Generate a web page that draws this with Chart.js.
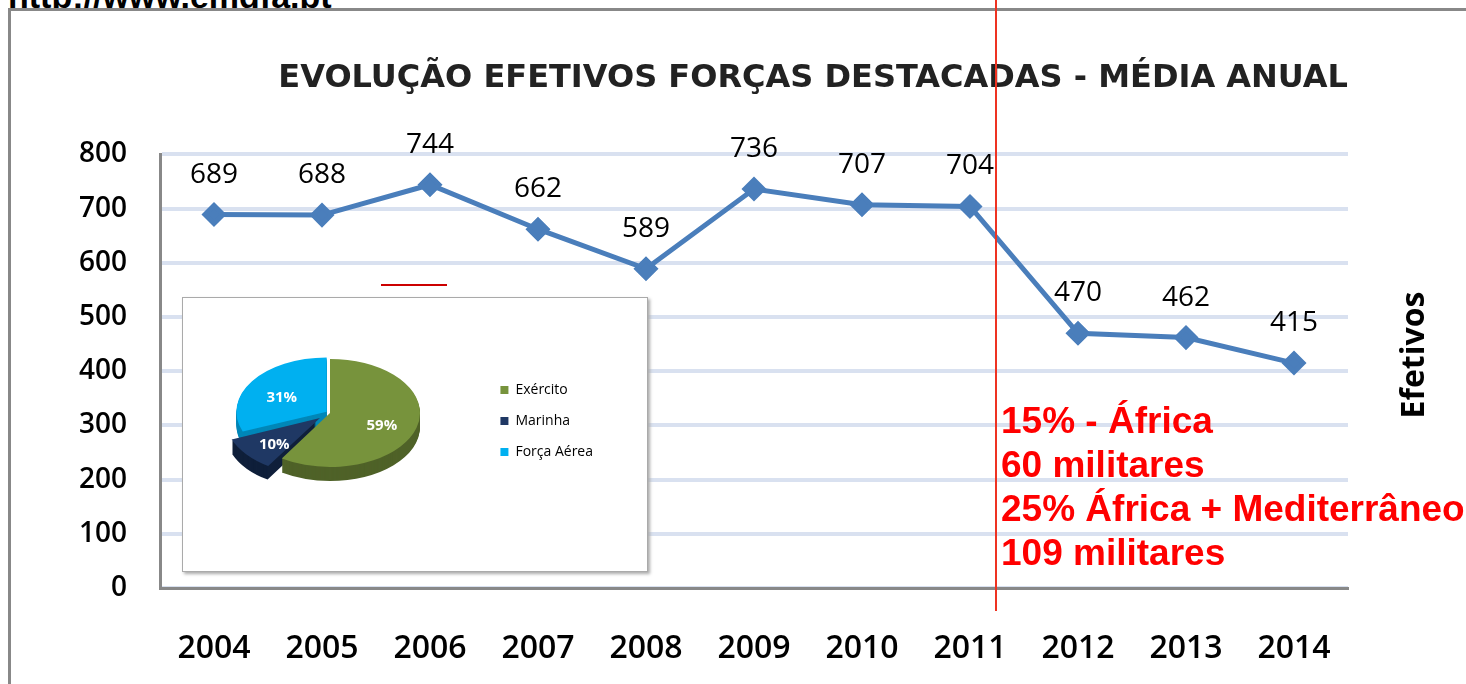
<!DOCTYPE html>
<html>
<head>
<meta charset="utf-8">
<script src="https://cdn.jsdelivr.net/npm/chart.js@4.4.1/dist/chart.umd.min.js"></script>
<style>
  html, body { margin: 0; padding: 0; background: #fff; overflow: hidden; }
  body { width: 1466px; height: 684px; position: relative; }
  .url { position: absolute; left: 8px; top: -21px; font: bold 34px "Liberation Sans", Arial, sans-serif; color: #000; line-height: 34px; white-space: nowrap; }
  .frame { position: absolute; left: 8px; top: 8px; right: -10px; bottom: -10px; border-left: 3px solid #888; border-top: 3px solid #888; background: #fff; }
  #main { position: absolute; left: 0; top: 0; }
  .inset { position: absolute; left: 182px; top: 297px; width: 464px; height: 273px; border: 1px solid #aaa; background: #fff; box-shadow: 2px 2px 3px #aaa; }
  .redline { position: absolute; left: 995px; top: 0; width: 2px; height: 611px; background: #ee3322; }
  .redmark { position: absolute; left: 381px; top: 284px; width: 66px; height: 2px; background: #cc0000; }
  .notes { position: absolute; left: 1001px; top: 399px; font: bold 37px "Liberation Sans", Arial, sans-serif; color: #ff0000; line-height: 44px; white-space: nowrap; }
</style>
</head>
<body>
<div class="url">http://www.emgfa.pt</div>
<div class="frame"></div>
<canvas id="main" width="1466" height="684"></canvas>
<div class="inset"><canvas id="pie" width="464" height="273"></canvas></div>
<div class="redmark"></div>
<div class="redline"></div>
<div class="notes">15% - África<br>60 militares<br>25% África + Mediterrâneo<br>109 militares</div>

<script>
// dados
const anos = ['2004', '2005', '2006', '2007', '2008', '2009', '2010', '2011', '2012', '2013', '2014'];
const efetivos = [689, 688, 744, 662, 589, 736, 707, 704, 470, 462, 415];
const ramos = ['Exército', 'Marinha', 'Força Aérea'];
const percentagens = [59, 10, 31];
const coresRamos = ['#77933C', '#1F3864', '#00B0F0'];
const coresLado = ['#4F6228', '#0F1F3A', '#0087B8'];
const afastamento = [0, 52, 16];

const fonte = '"Open Sans", sans-serif';

/* valores por cima dos pontos + titulo do eixo */
const rotulos = {
  id: 'rotulos',
  afterDatasetsDraw(chart) {
    const ctx = chart.ctx;
    const meta = chart.getDatasetMeta(0);
    ctx.save();
    ctx.font = '28px ' + fonte;
    ctx.fillStyle = '#000';
    ctx.textAlign = 'center';
    ctx.textBaseline = 'middle';
    meta.data.forEach(function(p, i) {
      ctx.fillText(efetivos[i], p.x, p.y - 40);
    });
    ctx.restore();
  },
  afterDraw(chart) {
    const ctx = chart.ctx;
    ctx.save();
    ctx.translate(1415, 355);
    ctx.rotate(-Math.PI / 2);
    ctx.font = 'bold 32px ' + fonte;
    ctx.fillStyle = '#000';
    ctx.textAlign = 'center';
    ctx.textBaseline = 'middle';
    ctx.fillText('Efetivos', 0, 0);
    ctx.restore();
  }
};

new Chart(document.getElementById('main'), {
  type: 'line',
  data: {
    labels: anos,
    datasets: [{
      data: efetivos,
      borderColor: '#4A7EBB',
      backgroundColor: '#4A7EBB',
      borderWidth: 5,
      pointStyle: 'rectRot',
      pointRadius: 9,
      pointBackgroundColor: '#4A7EBB',
      pointBorderColor: '#4A7EBB',
      tension: 0
    }]
  },
  options: {
    responsive: false,
    animation: false,
    layout: { padding: { left: 0, right: 118, top: 0, bottom: 0 } },
    plugins: {
      legend: { display: false },
      tooltip: { enabled: false },
      title: {
        display: true,
        text: 'EVOLUÇÃO EFETIVOS FORÇAS DESTACADAS - MÉDIA ANUAL',
        align: 'end',
        color: '#222',
        font: { family: '"DejaVu Sans", sans-serif', size: 32, weight: 'bold' },
        padding: { top: 59, bottom: 57 }
      }
    },
    scales: {
      x: {
        offset: true,
        grid: { display: false },
        border: { display: true, color: '#888', width: 3 },
        ticks: { color: '#000', font: { family: fonte, size: 32, weight: 600 }, padding: 34, maxRotation: 0 },
        afterFit(scale) { scale.height = 96; }
      },
      y: {
        min: 0,
        max: 800,
        ticks: { stepSize: 100, color: '#000', font: { family: fonte, size: 28, weight: 600 }, padding: 33 },
        grid: { color: '#D9E1F0', lineWidth: 4, drawTicks: false },
        border: { display: true, color: '#888', width: 3 },
        afterFit(scale) { scale.width = 160; }
      }
    }
  },
  plugins: [rotulos]
});

/* pie 3d achatado */
const pieX = 147, pieY = 115, achatar = 0.6, espessura = 14;

function deslocamento(arc, i) {
  const mid = (arc.startAngle + arc.endAngle) / 2;
  const off = afastamento[i] / 4 * (2 - Math.sin(Math.min(Math.PI, arc.circumference)));
  return { mid: mid, off: off };
}

const pie3d = {
  id: 'pie3d',
  beforeDatasetsDraw(chart) {
    const ctx = chart.ctx;
    const meta = chart.getDatasetMeta(0);
    const a0 = meta.data[0];
    for (let d = espessura; d >= 1; d--) {
      ctx.save();
      ctx.translate(pieX, pieY + d);
      ctx.scale(1, achatar);
      ctx.translate(-a0.x, -a0.y);
      meta.data.forEach(function(arc, i) {
        const s = deslocamento(arc, i);
        const cx = arc.x + Math.cos(s.mid) * s.off;
        const cy = arc.y + Math.sin(s.mid) * s.off;
        ctx.fillStyle = coresLado[i];
        ctx.beginPath();
        ctx.moveTo(cx, cy);
        ctx.arc(cx, cy, arc.outerRadius, arc.startAngle, arc.endAngle);
        ctx.closePath();
        ctx.fill();
      });
      ctx.restore();
    }
    ctx.save();
    ctx.translate(pieX, pieY);
    ctx.scale(1, achatar);
    ctx.translate(-a0.x, -a0.y);
  },
  afterDatasetsDraw(chart) {
    const ctx = chart.ctx;
    ctx.restore();
    const meta = chart.getDatasetMeta(0);
    const a0 = meta.data[0];
    ctx.save();
    ctx.font = 'bold 15px ' + fonte;
    ctx.fillStyle = '#fff';
    ctx.textAlign = 'center';
    ctx.textBaseline = 'middle';
    meta.data.forEach(function(arc, i) {
      const s = deslocamento(arc, i);
      const r = arc.outerRadius * 0.6 + s.off;
      const x = pieX + (arc.x + Math.cos(s.mid) * r - a0.x);
      const y = pieY + (arc.y + Math.sin(s.mid) * r - a0.y) * achatar + 4;
      ctx.fillText(percentagens[i] + '%', x, y);
    });
    ctx.restore();
  }
};

new Chart(document.getElementById('pie'), {
  type: 'pie',
  data: {
    labels: ramos,
    datasets: [{
      data: percentagens,
      backgroundColor: coresRamos,
      borderColor: '#fff',
      borderWidth: 0,
      offset: afastamento
    }]
  },
  options: {
    responsive: false,
    animation: false,
    radius: 90,
    layout: { padding: { left: 0, right: 44, top: 0, bottom: 27 } },
    plugins: {
      tooltip: { enabled: false },
      legend: {
        position: 'right',
        labels: {
          boxWidth: 8,
          boxHeight: 8,
          padding: 17,
          color: '#000',
          font: { family: fonte, size: 14 }
        }
      }
    }
  },
  plugins: [pie3d]
});
</script>
</body>
</html>
